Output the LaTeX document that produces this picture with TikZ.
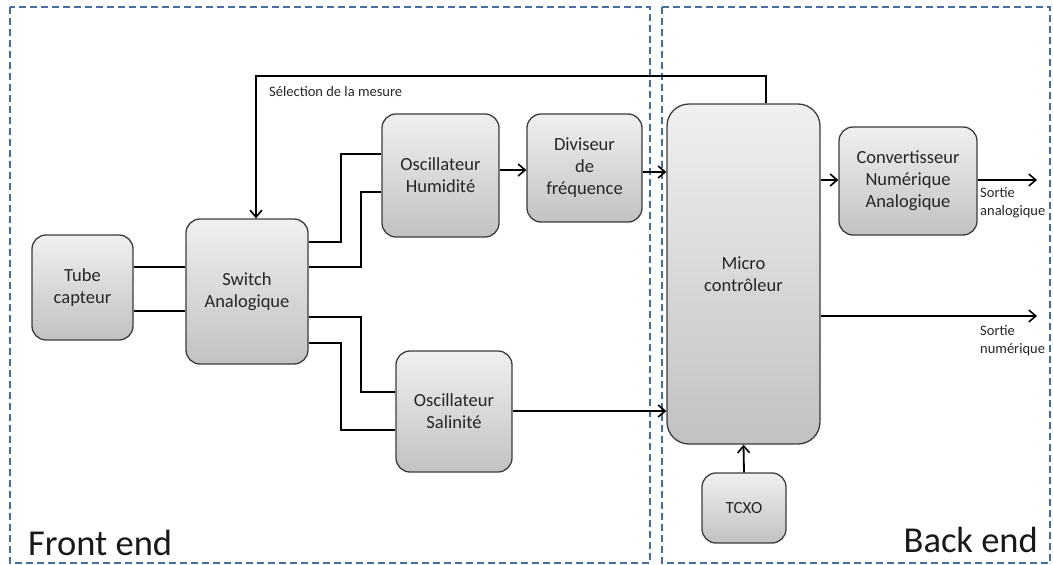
\documentclass[tikz,border=0pt]{standalone}
\usepackage{fontspec}
\setmainfont{Carlito}
\usepackage{tikz}
\usetikzlibrary{arrows.meta,positioning,calc}
\definecolor{frameblue}{RGB}{70,110,160}
\definecolor{boxedge}{RGB}{60,60,60}

\begin{document}
\begin{tikzpicture}[x=1pt,y=-1pt,
  font=\fontsize{18.5}{22}\selectfont,
  box/.style={draw=boxedge,line width=1.3pt,rounded corners=14pt,align=center,inner sep=2pt,
    top color=gray!12,bottom color=gray!48,text=black!85},
  wire/.style={line width=1.8pt},
  arr/.style={-{Straight Barb[length=7pt,width=12pt,line width=1.6pt]},line width=1.8pt},
  zone/.style={draw=frameblue,line width=1.2pt,dash pattern=on 7pt off 4pt},
  lab/.style={font=\fontsize{14.5}{18}\selectfont,inner sep=0pt,align=left,text=black!85},
  big/.style={font=\fontsize{36.5}{40}\selectfont,inner sep=0pt,text=black!90}]
\useasboundingbox (0,0) rectangle (1053,565);
% ---------- zones ----------
\draw[zone] (10,7) rectangle (650,563);
\draw[zone] (662,7) rectangle (1050,563);
\node[big,anchor=base west] (front) at (28,555) {Front end};
\node[big,anchor=base east] (back) at (1038,552) {Back end};
% ---------- blocks ----------
\node[box,minimum width=101pt,minimum height=105pt] (tube) at (82.5,287.5) {Tube\\capteur};
\node[box,minimum width=122pt,minimum height=145pt] (switch) at (247,291.5) {Switch\\Analogique};
\node[box,minimum width=117pt,minimum height=123pt] (oscH) at (440.5,175.5) {Oscillateur\\Humidité};
\node[box,minimum width=115pt,minimum height=108pt] (div) at (584.5,168) {Diviseur\\de\\fréquence};
\node[box,minimum width=116pt,minimum height=121pt] (oscS) at (454,411.5) {Oscillateur\\Salinité};
\node[box,minimum width=153pt,minimum height=340pt,rounded corners=22pt] (micro) at (743.5,274) {Micro\\contrôleur};
\node[box,minimum width=138pt,minimum height=108pt] (cna) at (908,181) {Convertisseur\\Numérique\\Analogique};
\node[box,minimum width=84pt,minimum height=70pt,font=\fontsize{17}{20}\selectfont] (tcxo) at (744,508) {TCXO};
\coordinate (outA) at (1037,180);
\coordinate (outN) at (1037,316);
% ---------- front end wiring ----------
\draw[wire] (tube.east |- 0,267) -- (switch.west |- 0,267);
\draw[wire] (tube.east |- 0,311) -- (switch.west |- 0,311);
\draw[wire] (switch.east |- 0,242) -- (341,242) |- (oscH.west |- 0,154);
\draw[wire] (switch.east |- 0,267) -- (361,267) |- (oscH.west |- 0,192);
\draw[wire] (switch.east |- 0,317) -- (361,317) |- (oscS.west |- 0,392);
\draw[wire] (switch.east |- 0,343) -- (341,343) |- (oscS.west |- 0,430);
\draw[arr] (oscH.east |- 0,170) -- (div.west |- 0,170);
\draw[arr] (div.east |- 0,172) -- (micro.west |- 0,172);
\draw[arr] (oscS.east |- 0,411) -- (micro.west |- 0,411);
% ---------- back end ----------
\draw[arr] (micro.east |- 0,180) -- (cna.west |- 0,180);
\draw[arr] (cna.east |- outA) -- (outA);
\draw[arr] (micro.east |- outN) -- (outN);
\draw[arr] (tcxo.north) -- (micro.south);
\draw[arr] (micro.north -| 766,0) |- (256,76) -- (switch.north -| 256,0);
\node[lab,anchor=west] (sel) at (269,92) {Sélection de la mesure};
\node[lab,anchor=north west] (sortA) at (980,187) {Sortie\\analogique};
\node[lab,anchor=north west] (sortN) at (980,325) {Sortie\\numérique};
\end{tikzpicture}
\end{document}
